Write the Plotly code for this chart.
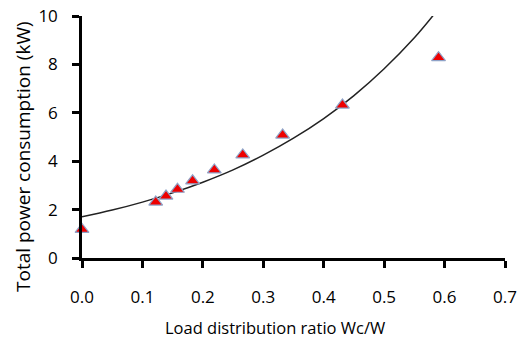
import plotly.graph_objects as go

# Measured data points
ratio = [0.0, 0.122, 0.139, 0.158, 0.183, 0.219, 0.266, 0.332, 0.431, 0.590]
power = [1.18, 2.31, 2.56, 2.84, 3.19, 3.64, 4.26, 5.08, 6.32, 8.28]

# Trend curve
curve_x = [0.0, 0.05, 0.10, 0.15, 0.20, 0.25, 0.30, 0.35, 0.40, 0.45, 0.50, 0.55, 0.582]
curve_y = [1.70, 1.98, 2.31, 2.69, 3.13, 3.64, 4.25, 4.95, 5.76, 6.71, 7.82, 9.10, 10.05]

x_ticks = [0.0, 0.1, 0.2, 0.3, 0.4, 0.5, 0.6, 0.7]
y_ticks = [0, 2, 4, 6, 8, 10]

x_title = "Load distribution ratio Wc/W"
y_title = "Total power consumption (kW)"

font = "Open Sans"

W, H = 521, 343
L, R, T, B = 82, 505, 16, 258  # plot box in window pixels

fig = go.Figure()
fig.add_trace(go.Scatter(
    x=curve_x, y=curve_y, mode="lines", line=dict(color="#222222", width=1.5, shape="spline"),
    showlegend=False, hoverinfo="skip", cliponaxis=False,
))
fig.add_trace(go.Scatter(
    x=ratio, y=power, mode="markers",
    marker=dict(symbol="triangle-up", size=12, color="#EE0000",
                line=dict(color="#8FA3C8", width=1.2)),
    showlegend=False, cliponaxis=False,
))

fig.update_layout(
    width=W, height=H,
    margin=dict(l=L, r=W - R, t=T, b=H - B),
    paper_bgcolor="white", plot_bgcolor="white",
    font=dict(family=font, size=17, color="black"),
    xaxis=dict(
        range=[0, 0.7], tickvals=x_ticks, ticktext=[f"{v:.1f}" for v in x_ticks],
        showline=True, linecolor="#000000", linewidth=2.5, showgrid=False, zeroline=False,
        ticks="outside", ticklen=7, tickwidth=2.5, tickcolor="#000000",
        ticklabelstandoff=15, automargin=False,
    ),
    yaxis=dict(
        range=[0, 10], tickvals=y_ticks,
        showline=True, linecolor="#000000", linewidth=2.5, showgrid=False, zeroline=False,
        ticks="outside", ticklen=7, tickwidth=2.5, tickcolor="#000000",
        ticklabelstandoff=11, automargin=False,
    ),
    annotations=[
        dict(text=x_title, xref="paper", yref="paper", x=(275 - L) / (R - L), y=-(327 - B) / (B - T),
             xanchor="center", yanchor="middle", showarrow=False, font=dict(size=16.5)),
        dict(text=y_title, xref="paper", yref="paper", x=-(L - 23) / (R - L), y=(B - 157) / (B - T),
             xanchor="center", yanchor="middle", showarrow=False, textangle=-90,
             font=dict(size=19)),
    ],
)

fig.write_html(
    "out.html",
    config={"displayModeBar": False},
    post_script="document.body.style.margin='0';document.body.style.overflow='hidden';",
)
